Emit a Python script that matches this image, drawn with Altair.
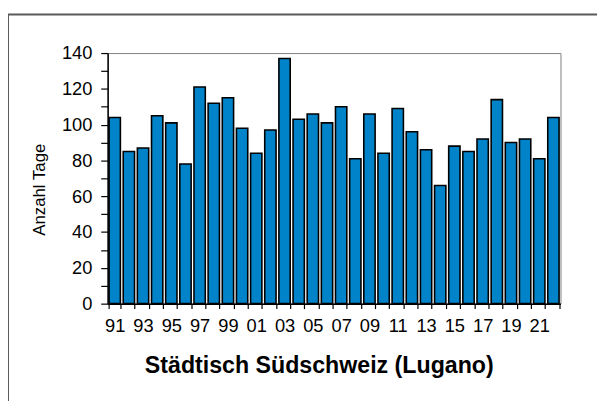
import altair as alt
import pandas as pd

years = ["91", "92", "93", "94", "95", "96", "97", "98", "99", "00",
         "01", "02", "03", "04", "05", "06", "07", "08", "09", "10",
         "11", "12", "13", "14", "15", "16", "17", "18", "19", "20",
         "21", "22"]
days = [104, 85, 87, 105, 101, 78, 121, 112, 115, 98,
        84, 97, 137, 103, 106, 101, 110, 81, 106, 84,
        109, 96, 86, 66, 88, 85, 92, 114, 90, 92,
        81, 104]

y_ticks = list(range(0, 141, 10))

df = pd.DataFrame({"Jahr": years, "Tage": days})
FONT = "Liberation Sans"

bars = alt.Chart(df).mark_bar(
    color="#0083C8", stroke="#000000", strokeWidth=1.6
).encode(
    x=alt.X("Jahr:O", sort=years,
            scale=alt.Scale(paddingInner=0.2, paddingOuter=0.1),
            axis=alt.Axis(
                title="Städtisch Südschweiz (Lugano)",
                labelExpr="toNumber(datum.value) % 2 == 1 ? datum.value : ''",
                labelAngle=0, labelOverlap=False, labelFontSize=18.5, labelFont=FONT,
                labelColor="#000000", labelPadding=8,
                tickBand="extent", tickSize=5, tickColor="#000000", tickWidth=1.2,
                domainColor="#000000", domainWidth=1.5,
                titleFont=FONT, titleFontSize=23.5, titleFontWeight="bold",
                titleColor="#000000", titleX=214, titleY=70,
                titleBaseline="alphabetic", titleAnchor=None)),
    y=alt.Y("Tage:Q", scale=alt.Scale(domain=[0, 140], nice=False),
            axis=alt.Axis(
                title="Anzahl Tage", values=y_ticks,
                labelExpr="datum.value % 20 == 0 ? datum.value : ''",
                labelFontSize=18.5, labelFont=FONT, labelColor="#000000",
                labelPadding=9, tickSize=7, tickColor="#000000", tickWidth=1.2,
                domainColor="#000000", domainWidth=1.5, grid=False,
                titleFont=FONT, titleFontSize=17, titleFontWeight="normal",
                titleColor="#000000", titleX=-64, titleY=138,
                titleBaseline="alphabetic", titleAngle=-90)),
)

frame_df = pd.DataFrame({"f": [0]})
left_line = alt.Chart(frame_df).mark_rule(color="#5a5a5a", strokeWidth=2).encode(
    x=alt.value(-101), y=alt.value(-39), y2=alt.value(360))
top_line = alt.Chart(frame_df).mark_rule(color="#5a5a5a", strokeWidth=2).encode(
    x=alt.value(-101), x2=alt.value(500), y=alt.value(-39))

chart = alt.layer(bars, left_line, top_line).properties(
    width=459, height=254,
    autosize=alt.AutoSizeParams(type="none"),
    padding={"left": 101, "top": 43, "right": 37, "bottom": 96},
    background="#ffffff",
).configure_view(stroke="#808080", strokeWidth=1)

chart.save("out.html", embed_options={"renderer": "svg", "actions": False})
